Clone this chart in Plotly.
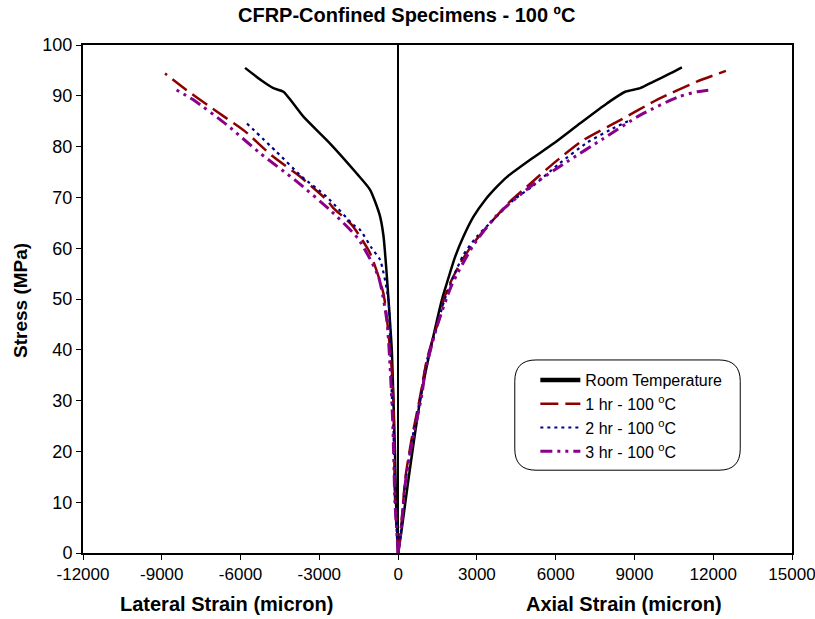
import plotly.graph_objects as go

# ---------------- data (strain in micron, stress in MPa) ----------------
rt_lat_strain = [0, -40, -80, -120, -178, -241, -368, -450, -559, -700, -1067, -1575, -2590, -3606, -4368, -4750, -5200, -5829]
rt_lat_stress = [0, 5, 10, 20, 30, 40, 50, 56, 62.5, 66.5, 71.5, 74.7, 80.6, 85.9, 90.8, 91.5, 93.0, 95.5]
rt_ax_strain = [0, 120, 250, 381, 600, 838, 1100, 1400, 1664, 1854, 2171, 2489, 2870, 3314, 3800, 4140, 5029, 5917, 6933, 7950, 8648, 9219, 9727, 10362, 10807]
rt_ax_stress = [0, 4, 9, 14, 22, 30, 37, 44, 49.8, 53.1, 58.3, 62.3, 66.2, 69.5, 72.3, 74.0, 77.4, 80.6, 84.6, 88.5, 90.8, 91.5, 92.8, 94.4, 95.6]

h1_lat_strain = [0, -60, -114, -150, -178, -241, -305, -559, -1067, -1765, -2464, -2717, -3733, -4825, -5829, -6908, -8050, -8876]
h1_lat_stress = [0, 5, 10, 20, 30, 36, 40, 51.1, 59, 64.6, 67.9, 69.5, 74.1, 78.3, 83, 86.9, 91.1, 94.4]
h1_ax_strain = [0, 100, 267, 500, 838, 1092, 1400, 1600, 1727, 1981, 2362, 2870, 3505, 4267, 4902, 5917, 7060, 8457, 9854, 11378, 12483]
h1_ax_stress = [0, 4, 14.4, 22, 30.8, 38, 43.5, 46.5, 49.8, 53.1, 57, 61, 64.9, 69.2, 72.1, 76.7, 81.3, 85.2, 89.2, 92.8, 94.9]

h2_lat_strain = [0, -60, -110, -180, -241, -305, -368, -686, -1003, -1448, -1702, -2717, -3670, -4635, -5829]
h2_lat_stress = [0, 5, 10, 25, 31.4, 41.9, 49.8, 57.7, 60, 63.6, 64.6, 70.1, 74.1, 79, 84.9]
h2_ax_strain = [0, 100, 280, 520, 860, 1100, 1450, 1727, 2108, 2489, 2997, 3632, 4394, 5100, 6100, 7200, 8076, 8838]
h2_ax_stress = [0, 4, 14, 22, 31, 38, 44, 49.2, 54.4, 58.7, 62.3, 65.6, 69.5, 72.1, 76.5, 80.8, 83.3, 85.2]

h3_lat_strain = [0, -60, -120, -200, -305, -432, -750, -1511, -2590, -3924, -5257, -6527, -7797, -8495]
h3_lat_stress = [0, 5, 10, 25, 36.7, 45.9, 54.4, 61.8, 67.5, 73.4, 78.7, 84.3, 89.2, 91.3]
h3_ax_strain = [0, 100, 280, 540, 900, 1029, 1473, 2045, 2870, 3759, 5029, 6426, 7822, 9219, 10679, 11400, 11950]
h3_ax_stress = [0, 4, 14, 22, 31, 35.7, 44.5, 52.8, 60.6, 66.5, 72.1, 77, 81.6, 86.2, 89.8, 90.8, 91.2]

series_names = ["Room Temperature", "1 hr - 100 <sup>o</sup>C", "2 hr - 100 <sup>o</sup>C", "3 hr - 100 <sup>o</sup>C"]
x_ticks = [-12000, -9000, -6000, -3000, 0, 3000, 6000, 9000, 12000, 15000]
y_ticks = [0, 10, 20, 30, 40, 50, 60, 70, 80, 90, 100]

FONT = "Liberation Sans, Arial, sans-serif"

styles = [
    dict(color="black", width=2.5, dash="solid"),
    dict(color="#8B0000", width=2.5, dash="18px,7px"),
    dict(color="#00008B", width=2.2, dash="3px,4px"),
    dict(color="#8B008B", width=3, dash="12px,5px,3px,5px,3px,5px"),
]
legend_widths = [4.5, 2.5, 2.2, 3]
data = [
    (rt_lat_strain, rt_lat_stress, rt_ax_strain, rt_ax_stress),
    (h1_lat_strain, h1_lat_stress, h1_ax_strain, h1_ax_stress),
    (h2_lat_strain, h2_lat_stress, h2_ax_strain, h2_ax_stress),
    (h3_lat_strain, h3_lat_stress, h3_ax_strain, h3_ax_stress),
]

fig = go.Figure()
for i, (lx, ly, ax, ay) in enumerate(data):
    st = styles[i]
    for xs, ys in ((lx, ly), (ax, ay)):
        fig.add_trace(go.Scatter(x=xs, y=ys, mode="lines", name=series_names[i],
                                 line=dict(color=st["color"], width=st["width"], dash=st["dash"],
                                           shape="spline", smoothing=0.6),
                                 legendgroup=str(i), showlegend=False, hoverinfo="x+y"))
# legend-only entries (sample widths as in the reference)
for i, st in enumerate(styles):
    fig.add_trace(go.Scatter(x=[None], y=[None], mode="lines", name=series_names[i],
                             line=dict(color=st["color"], width=legend_widths[i], dash=st["dash"]),
                             legendgroup=str(i), showlegend=True))

# rounded legend box
x0, x1, y0, y1 = 0.609, 0.927, 0.163, 0.380
rx, ry = 0.03, 0.042
path = (f"M {x0+rx},{y0} L {x1-rx},{y0} Q {x1},{y0} {x1},{y0+ry} L {x1},{y1-ry} "
        f"Q {x1},{y1} {x1-rx},{y1} L {x0+rx},{y1} Q {x0},{y1} {x0},{y1-ry} "
        f"L {x0},{y0+ry} Q {x0},{y0} {x0+rx},{y0} Z")

fig.update_layout(
    width=815, height=619,
    margin=dict(l=83, r=23, t=45, b=66, autoexpand=False),
    paper_bgcolor="white", plot_bgcolor="white",
    font=dict(family=FONT, size=16, color="black"),
    showlegend=True,
    legend=dict(x=0.638, y=0.374, xanchor="left", yanchor="top", bgcolor="rgba(0,0,0,0)",
                font=dict(family=FONT, size=16, color="black"), itemwidth=40, tracegroupgap=0),
    shapes=[dict(type="path", xref="paper", yref="paper", path=path, line=dict(color="black", width=1))],
    xaxis=dict(range=[-12000, 15000], tickvals=x_ticks, ticktext=[str(v) for v in x_ticks],
               showline=True, mirror=True, linecolor="black", linewidth=2, ticks="outside", ticklen=5,
               tickwidth=1, tickcolor="black", showgrid=False, zeroline=True, zerolinecolor="black",
               zerolinewidth=2, tickfont=dict(family=FONT, size=17), automargin=False,
               ticklabeloverflow="allow"),
    yaxis=dict(range=[0, 100], tickvals=y_ticks, showline=True, mirror=True, linecolor="black", linewidth=2,
               ticks="outside", ticklen=5, tickwidth=1, tickcolor="black", showgrid=False, zeroline=False,
               tickfont=dict(family=FONT, size=18), automargin=False, ticklabeloverflow="allow"),
    annotations=[
        dict(text="<b>CFRP-Confined Specimens - 100 ºC</b>", xref="paper", yref="paper", x=0.456, y=1.059,
             showarrow=False, font=dict(family=FONT, size=20), xanchor="center", yanchor="middle"),
        dict(text="<b>Stress (MPa)</b>", xref="paper", yref="paper", x=-0.089, y=0.498, textangle=-90,
             showarrow=False, font=dict(family=FONT, size=19), xanchor="center", yanchor="middle"),
        dict(text="<b>Lateral Strain (micron)</b>", xref="paper", yref="paper", x=0.2017, y=-0.100,
             showarrow=False, font=dict(family=FONT, size=20), xanchor="center", yanchor="middle"),
        dict(text="<b>Axial Strain (micron)</b>", xref="paper", yref="paper", x=0.763, y=-0.100,
             showarrow=False, font=dict(family=FONT, size=20), xanchor="center", yanchor="middle"),
    ],
)

fig.write_html("out.html")
